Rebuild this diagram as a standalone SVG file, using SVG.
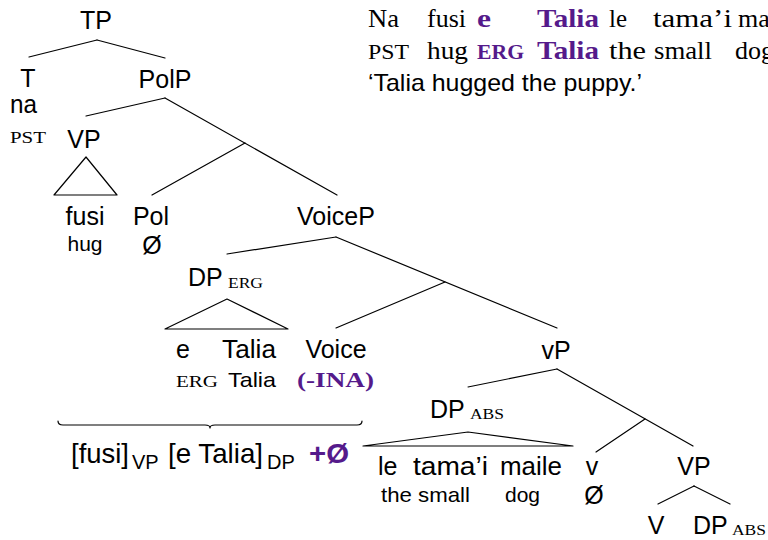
<svg xmlns="http://www.w3.org/2000/svg" width="768" height="540" viewBox="0 0 768 540">
<style>
text{font-family:"Liberation Sans",Arial,sans-serif;fill:#000}
.n{font-size:25px}
.m{font-size:21px}
.mid{text-anchor:middle}
.sc{font-family:"Liberation Serif","Times New Roman",serif}
.rm{font-family:"Liberation Serif","Times New Roman",serif;font-size:26px}
.p{fill:#551A8B;font-weight:bold}
.e{fill:none;stroke:#000;stroke-width:1.2;stroke-linecap:round;stroke-linejoin:round}
</style>
<rect width="768" height="540" fill="#fff"/>

<g id="connectors">
<path class="e" d="M97,40 L29,57"/>
<path class="e" d="M97,40 L165,58"/>
<path class="e" d="M165,98 L86,116"/>
<path class="e" d="M165,98 L337,195"/>
<path class="e" d="M245,143 L152,195"/>
<path class="e" d="M86,157 L54,195 L117,195 Z"/>
<path class="e" d="M336,237 L227,254"/>
<path class="e" d="M336,237 L557,328"/>
<path class="e" d="M445,282 L336,328"/>
<path class="e" d="M227,299 L165,329 L288,329 Z"/>
<path class="e" d="M557,369 L468,387"/>
<path class="e" d="M557,369 L693,446"/>
<path class="e" d="M645,419 L596,452"/>
<path class="e" d="M468,432 L363,446 L573,446 Z"/>
<path class="e" d="M694,486 L658,504"/>
<path class="e" d="M694,486 L730,504"/>
<path class="e" d="M58,421 Q58,425 63,425 L205,425 Q210,425 210,428 Q210,425 215,425 L357,425 Q362,425 362,421"/>
</g>

<g id="gloss">
<text class="rm" x="368" y="27" textLength="31" lengthAdjust="spacingAndGlyphs">Na</text>
<text class="rm" x="427" y="27" textLength="39" lengthAdjust="spacingAndGlyphs">fusi</text>
<text class="rm p" x="477" y="27" textLength="14" lengthAdjust="spacingAndGlyphs">e</text>
<text class="rm p" x="537" y="27" textLength="62" lengthAdjust="spacingAndGlyphs">Talia</text>
<text class="rm" x="609" y="27" textLength="18" lengthAdjust="spacingAndGlyphs">le</text>
<text class="rm" x="653" y="27" textLength="79" lengthAdjust="spacingAndGlyphs">tama’i</text>
<text class="rm" x="738" y="27">maile</text>
<text class="sc" x="368" y="59" font-size="20" textLength="41" lengthAdjust="spacingAndGlyphs">PST</text>
<text class="rm" x="427" y="59" textLength="41" lengthAdjust="spacingAndGlyphs">hug</text>
<text class="sc p" x="477" y="59" font-size="20" textLength="47" lengthAdjust="spacingAndGlyphs">ERG</text>
<text class="rm p" x="537" y="59" textLength="62" lengthAdjust="spacingAndGlyphs">Talia</text>
<text class="rm" x="609" y="59" textLength="37" lengthAdjust="spacingAndGlyphs">the</text>
<text class="rm" x="654" y="59" textLength="58" lengthAdjust="spacingAndGlyphs">small</text>
<text class="rm" x="735" y="59">dog</text>
<text x="368" y="91" font-size="24" textLength="274" lengthAdjust="spacingAndGlyphs">‘Talia hugged the puppy.’</text>
</g>

<g id="TP"><text class="n mid" x="96" y="29" font-size="26">TP</text></g>
<g id="T">
<text class="n mid" x="28" y="87">T</text>
<text class="n" x="10" y="113" textLength="27" lengthAdjust="spacingAndGlyphs">na</text>
<text class="sc" x="10" y="143" font-size="17" textLength="36" lengthAdjust="spacingAndGlyphs">PST</text>
</g>
<g id="PolP"><text class="n mid" x="165" y="88">PolP</text></g>
<g id="VP1">
<text class="n mid" x="84" y="148">VP</text>
<text class="n mid" x="85" y="225">fusi</text>
<text class="m mid" x="85" y="251">hug</text>
</g>
<g id="Pol">
<text class="n mid" x="151" y="225">Pol</text>
<text class="n mid" x="152" y="254">Ø</text>
</g>
<g id="VoiceP"><text class="n mid" x="336" y="225">VoiceP</text></g>
<g id="DPerg">
<text class="n" x="188" y="286">DP</text>
<text class="sc" x="228" y="288" font-size="14" textLength="35" lengthAdjust="spacingAndGlyphs">ERG</text>
<text class="n" x="176" y="358">e</text>
<text class="n" x="222" y="358" textLength="54" lengthAdjust="spacingAndGlyphs">Talia</text>
<text class="sc" x="176" y="387" font-size="16" textLength="42" lengthAdjust="spacingAndGlyphs">ERG</text>
<text class="m" x="228" y="387" textLength="48" lengthAdjust="spacingAndGlyphs">Talia</text>
</g>
<g id="Voice">
<text class="n mid" x="336" y="358">Voice</text>
<text class="sc p" x="297" y="387" font-size="22" textLength="77" lengthAdjust="spacingAndGlyphs">(-INA)</text>
</g>
<g id="brace-label">
<text x="71" y="463" font-size="28" textLength="58" lengthAdjust="spacingAndGlyphs">[fusi]</text>
<text x="132" y="469" font-size="20">VP</text>
<text x="168" y="463" font-size="28" textLength="95" lengthAdjust="spacingAndGlyphs">[e Talia]</text>
<text x="267" y="469" font-size="20">DP</text>
<text class="p" x="309" y="463" font-size="28" textLength="40" lengthAdjust="spacingAndGlyphs">+Ø</text>
</g>
<g id="vP"><text class="n mid" x="556" y="359">vP</text></g>
<g id="DPabs">
<text class="n" x="430" y="418">DP</text>
<text class="sc" x="470" y="419" font-size="14" textLength="34" lengthAdjust="spacingAndGlyphs">ABS</text>
<text class="n" x="378" y="475">le</text>
<text class="n" x="413" y="475" textLength="75" lengthAdjust="spacingAndGlyphs">tama’i</text>
<text class="n" x="500" y="475" textLength="62" lengthAdjust="spacingAndGlyphs">maile</text>
<text class="m" x="381" y="502" textLength="89" lengthAdjust="spacingAndGlyphs">the small</text>
<text class="m" x="505" y="502" textLength="35" lengthAdjust="spacingAndGlyphs">dog</text>
</g>
<g id="v">
<text class="n mid" x="592" y="475">v</text>
<text class="n mid" x="594" y="504">Ø</text>
</g>
<g id="VP2"><text class="n mid" x="694" y="475">VP</text></g>
<g id="V"><text class="n mid" x="656" y="534">V</text></g>
<g id="DPabs2">
<text class="n" x="693" y="534">DP</text>
<text class="sc" x="732" y="535" font-size="14" textLength="34" lengthAdjust="spacingAndGlyphs">ABS</text>
</g>
</svg>
